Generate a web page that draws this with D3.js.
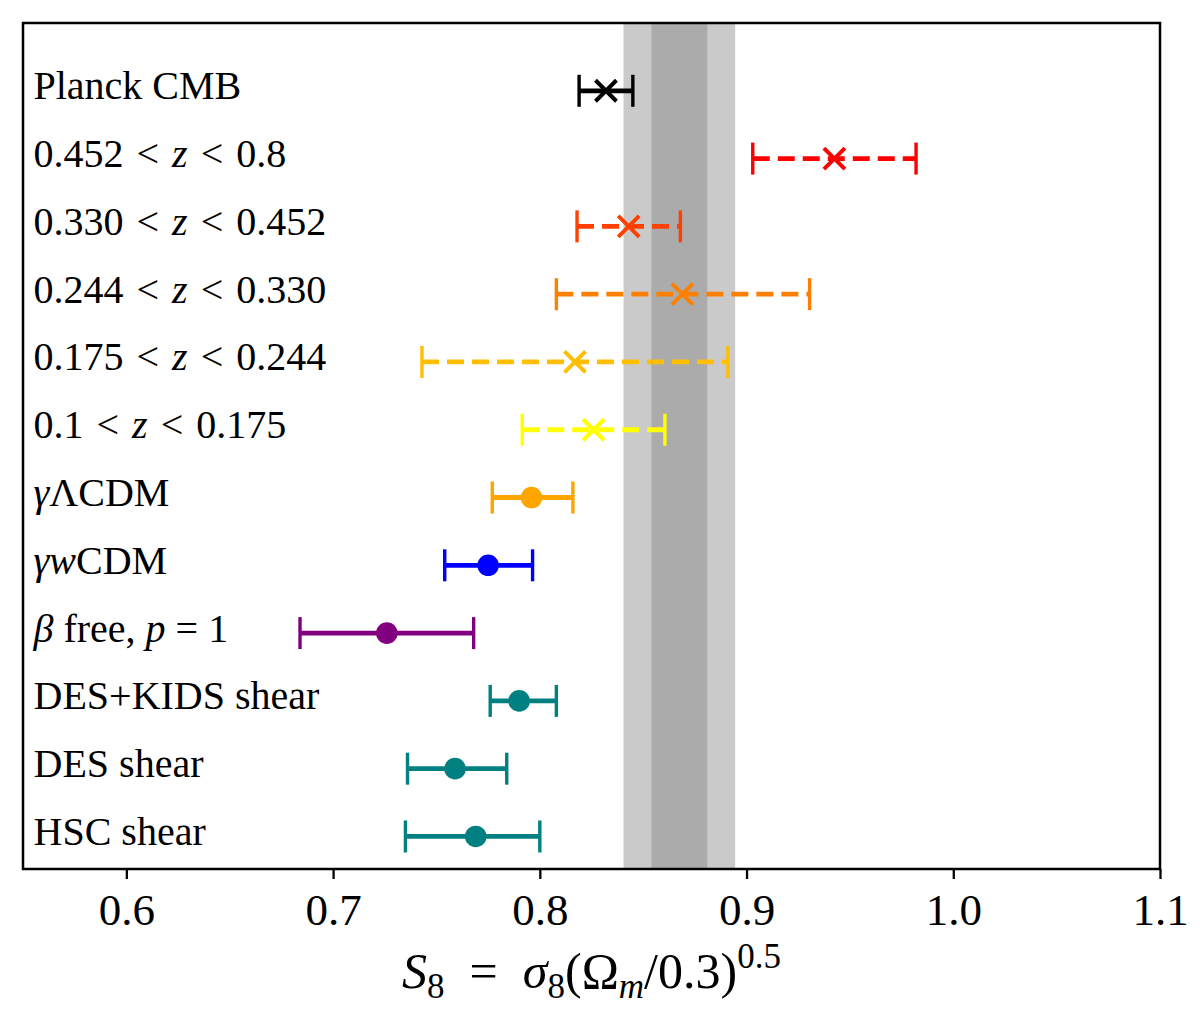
<!DOCTYPE html>
<html>
<head>
<meta charset="utf-8">
<script src="https://cdn.jsdelivr.net/npm/d3@7"></script>
<style>
    body { margin: 0; background: #fff; }
</style>
</head>
<body>
<div id="s8-chart"></div>
<script>
// rows from top to bottom; $...$ marks the italic (math) parts
const labels = [
    "Planck CMB",
    "0.452 < $z$ < 0.8",
    "0.330 < $z$ < 0.452",
    "0.244 < $z$ < 0.330",
    "0.175 < $z$ < 0.244",
    "0.1 < $z$ < 0.175",
    "$γ$ΛCDM",
    "$γw$CDM",
    "$β$ free, $p$ = 1",
    "DES+KIDS shear",
    "DES shear",
    "HSC shear"
];
const s8Value = [0.832, 0.9425, 0.843, 0.869, 0.817, 0.826, 0.796, 0.775, 0.726, 0.790, 0.759, 0.769];
const s8Low   = [0.819, 0.903, 0.818, 0.808, 0.743, 0.7915, 0.777, 0.754, 0.684, 0.776, 0.736, 0.735];
const s8High  = [0.845, 0.982, 0.868, 0.9305, 0.891, 0.8605, 0.816, 0.7965, 0.768, 0.808, 0.784, 0.800];
const xTicks = [0.6, 0.7, 0.8, 0.9, 1.0, 1.1];
// shaded vertical bands (1 and 2 sigma)
const bandOuter = [0.8405, 0.8945];
const bandInner = [0.854, 0.881];

// styling per row
const colours = ["#000000", "#ff0000", "#ff4000", "#ff8000", "#ffbf00", "#ffff00",
                 "#ffa500", "#0000ff", "#800080", "#008080", "#008080", "#008080"];
const markers = ["x", "x", "x", "x", "x", "x", "o", "o", "o", "o", "o", "o"];
const dashed  = [false, true, true, true, true, true, false, false, false, false, false, false];

const FONT = "'Liberation Serif', 'Times New Roman', serif";

class S8Chart {
    constructor(_parentElement) {
        this.parentElement = _parentElement;
        this.initVis();
    }

    initVis() {
        const vis = this;
        vis.margin = { LEFT: 23, RIGHT: 40, TOP: 23, BOTTOM: 141 };
        vis.width = 1200 - vis.margin.LEFT - vis.margin.RIGHT;
        vis.height = 1010 - vis.margin.TOP - vis.margin.BOTTOM;

        vis.svg = d3.select(vis.parentElement).append("svg")
            .attr("width", 1200)
            .attr("height", 1010);

        vis.g = vis.svg.append("g")
            .attr("transform", `translate(${vis.margin.LEFT}, ${vis.margin.TOP})`);

        vis.x = d3.scaleLinear()
            .domain([0.55, 1.1])
            .range([0, vis.width]);

        // row i sits at y = 12 - i
        vis.y = d3.scaleLinear()
            .domain([0.52, 13])
            .range([vis.height, 0]);

        vis.rows = labels.map((label, i) => ({
            label: label,
            pos: labels.length - i,
            value: s8Value[i],
            low: s8Low[i],
            high: s8High[i],
            colour: colours[i],
            marker: markers[i],
            dashed: dashed[i]
        }));

        vis.drawBands();
        vis.drawRows();
        vis.drawAxis();
    }

    drawBands() {
        const vis = this;
        vis.g.selectAll("rect.band")
            .data([bandOuter, bandInner])
            .enter().append("rect")
            .attr("class", "band")
            .attr("x", d => vis.x(d[0]))
            .attr("width", d => vis.x(d[1]) - vis.x(d[0]))
            .attr("y", 0)
            .attr("height", vis.height)
            .attr("fill", "#808080")
            .attr("fill-opacity", 0.42);
    }

    drawRows() {
        const vis = this;
        const capHalf = 16;

        const rowG = vis.g.selectAll("g.row")
            .data(vis.rows)
            .enter().append("g")
            .attr("class", "row")
            .attr("transform", d => `translate(0, ${vis.y(d.pos)})`);

        // error bar
        rowG.append("line")
            .attr("x1", d => vis.x(d.low))
            .attr("x2", d => vis.x(d.high))
            .attr("stroke", d => d.colour)
            .attr("stroke-width", 4.8)
            .attr("stroke-dasharray", d => d.dashed ? "17,8" : null);

        // caps
        rowG.selectAll("line.cap")
            .data(d => [d.low, d.high].map(v => ({ v: v, colour: d.colour })))
            .enter().append("line")
            .attr("class", "cap")
            .attr("x1", d => vis.x(d.v))
            .attr("x2", d => vis.x(d.v))
            .attr("y1", -capHalf)
            .attr("y2", capHalf)
            .attr("stroke", d => d.colour)
            .attr("stroke-width", 3.4);

        // markers
        rowG.filter(d => d.marker === "o").append("circle")
            .attr("cx", d => vis.x(d.value))
            .attr("r", 10.8)
            .attr("fill", d => d.colour);

        const s = 10.5;
        rowG.filter(d => d.marker === "x").append("path")
            .attr("d", d => {
                const cx = vis.x(d.value);
                return `M${cx - s},${-s}L${cx + s},${s}M${cx - s},${s}L${cx + s},${-s}`;
            })
            .attr("stroke", d => d.colour)
            .attr("stroke-width", 4)
            .attr("fill", "none");

        // row labels
        const text = rowG.append("text")
            .attr("x", 10.5)
            .attr("y", 8.5)
            .attr("font-family", FONT)
            .attr("font-size", "40px")
            .attr("word-spacing", d => d.label.includes("<") ? "3px" : null)
            .attr("fill", "#000");

        text.each(function(d) {
            const t = d3.select(this);
            d.label.split("$").forEach((part, k) => {
                if (part === "") return;
                t.append("tspan")
                    .attr("font-style", k % 2 === 1 ? "italic" : null)
                    .text(part);
            });
        });
    }

    drawAxis() {
        const vis = this;

        const xAxisCall = d3.axisBottom(vis.x)
            .tickValues(xTicks)
            .tickFormat(d3.format(".1f"))
            .tickSize(10)
            .tickSizeOuter(0);

        vis.xAxisGroup = vis.g.append("g")
            .attr("class", "x axis")
            .attr("transform", `translate(0, ${vis.height})`)
            .call(xAxisCall);

        vis.xAxisGroup.select(".domain").remove();
        vis.xAxisGroup.selectAll(".tick line")
            .attr("stroke", "#000")
            .attr("stroke-width", 2.3);
        vis.xAxisGroup.selectAll(".tick text")
            .attr("font-family", FONT)
            .attr("font-size", "45px")
            .attr("fill", "#000")
            .attr("dy", null)
            .attr("y", 56);

        // frame
        vis.g.append("rect")
            .attr("width", vis.width)
            .attr("height", vis.height)
            .attr("fill", "none")
            .attr("stroke", "#000")
            .attr("stroke-width", 2.5);

        // X label: S_8 = sigma_8 (Omega_m / 0.3)^0.5
        const xLabel = vis.g.append("text")
            .attr("x", vis.width / 2)
            .attr("y", vis.height + 119)
            .attr("text-anchor", "middle")
            .attr("font-family", FONT)
            .attr("font-size", "50px")
            .attr("fill", "#000");

        const parts = [
            { t: "S", it: true },
            { t: "8", sub: true },
            { t: "\u2002=\u2002" },
            { t: "σ", it: true },
            { t: "8", sub: true },
            { t: "(Ω" },
            { t: "m", it: true, sub: true },
            { t: "/0.3)" },
            { t: "0.5", sup: true }
        ];
        let shift = 0;
        parts.forEach(p => {
            const target = p.sub ? 10 : (p.sup ? -20 : 0);
            xLabel.append("tspan")
                .attr("dy", target - shift)
                .attr("font-style", p.it ? "italic" : null)
                .attr("font-size", (p.sub || p.sup) ? "35px" : null)
                .text(p.t);
            shift = target;
        });
    }
}

new S8Chart("#s8-chart");
</script>
</body>
</html>
